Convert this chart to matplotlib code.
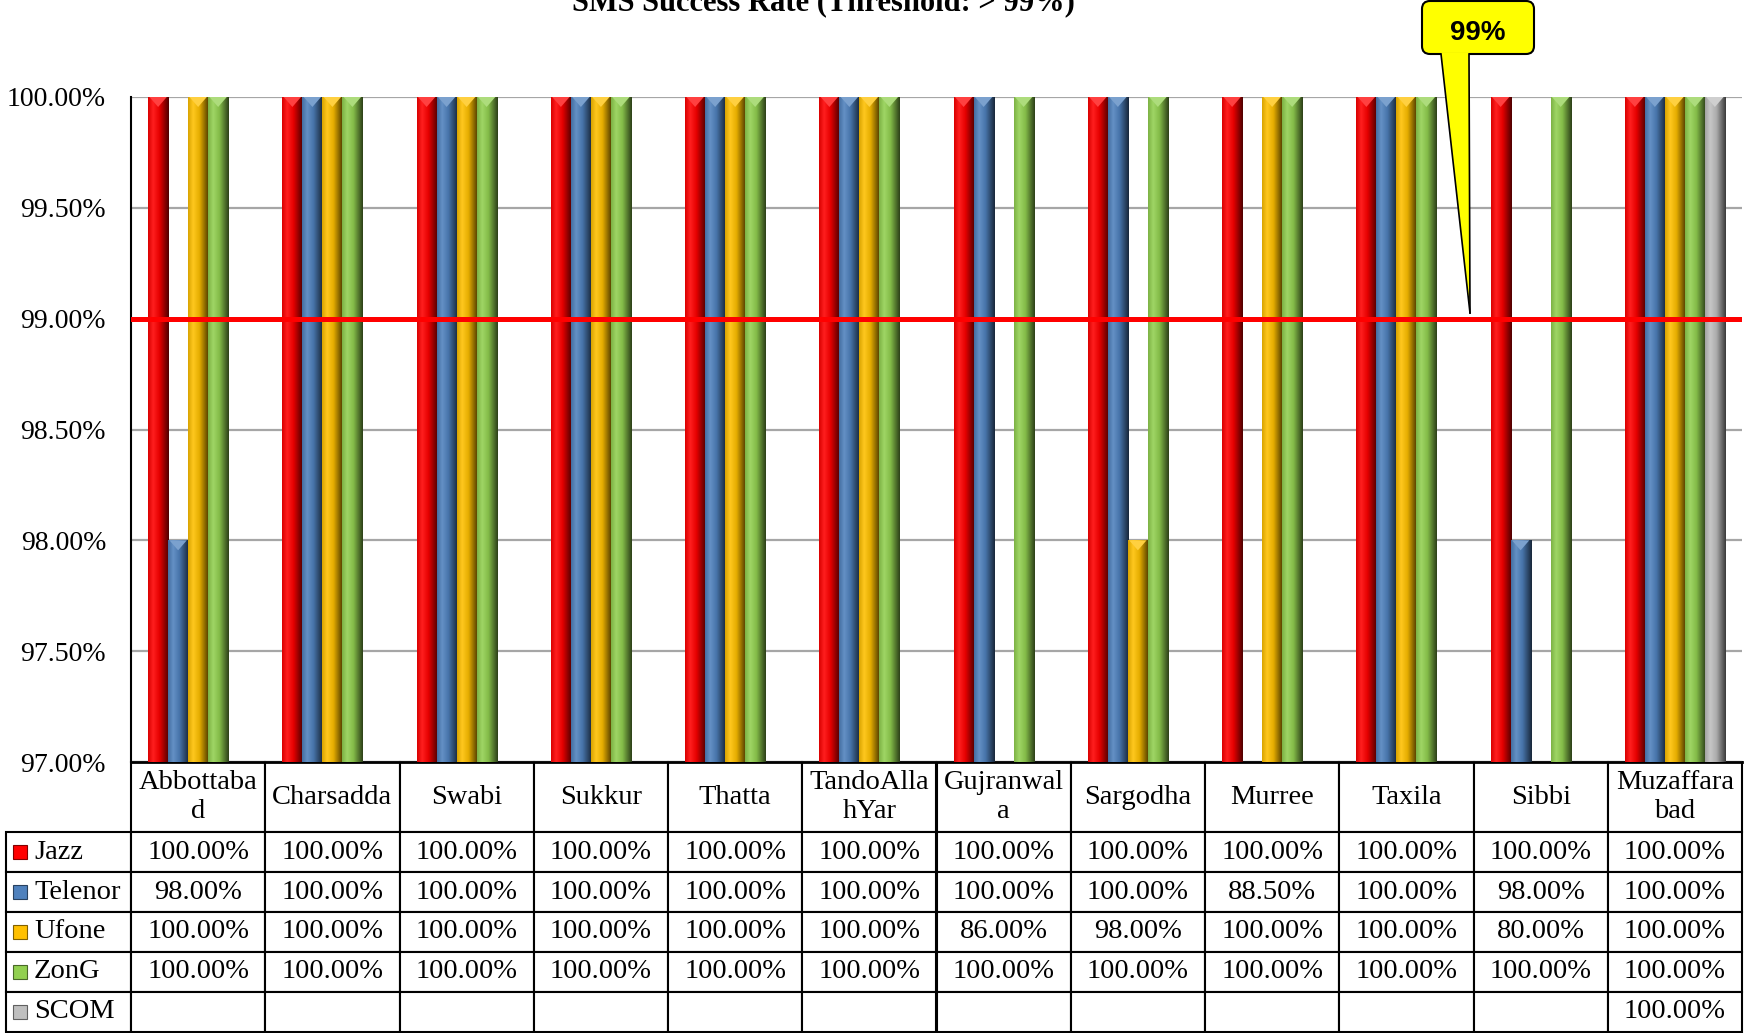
import numpy as np
import matplotlib.pyplot as plt
import matplotlib.transforms as mtransforms
from matplotlib.colors import to_rgb, LinearSegmentedColormap
from matplotlib.patches import FancyBboxPatch, Polygon, Rectangle
from matplotlib.lines import Line2D
from matplotlib.table import Table

plt.rcParams['font.family'] = ['Liberation Serif', 'DejaVu Serif']

categories = ['Abbottaba\nd', 'Charsadda', 'Swabi', 'Sukkur', 'Thatta', 'TandoAlla\nhYar',
              'Gujranwal\na', 'Sargodha', 'Murree', 'Taxila', 'Sibbi', 'Muzaffara\nbad']
series = ['Jazz', 'Telenor', 'Ufone', 'ZonG', 'SCOM']

jazz = [100.0, 100.0, 100.0, 100.0, 100.0, 100.0, 100.0, 100.0, 100.0, 100.0, 100.0, 100.0]
telenor = [98.0, 100.0, 100.0, 100.0, 100.0, 100.0, 100.0, 100.0, 88.5, 100.0, 98.0, 100.0]
ufone = [100.0, 100.0, 100.0, 100.0, 100.0, 100.0, 86.0, 98.0, 100.0, 100.0, 80.0, 100.0]
zong = [100.0, 100.0, 100.0, 100.0, 100.0, 100.0, 100.0, 100.0, 100.0, 100.0, 100.0, 100.0]
nan = np.nan
scom = [nan, nan, nan, nan, nan, nan, nan, nan, nan, nan, nan, 100.0]
data = [jazz, telenor, ufone, zong, scom]

colors = ['#ff0000', '#4f81bd', '#ffc000', '#92d050', '#bfbfbf']
threshold = 99.0
yticks = [97.0, 97.5, 98.0, 98.5, 99.0, 99.5, 100.0]
ymin, ymax = 97.0, 100.0


def shade(c, f):
    r = np.array(to_rgb(c))
    if f > 1:
        return tuple(r + (1 - r) * (f - 1))
    return tuple(r * f)


def bar_cmap(c):
    stops = [(0.0, shade(c, 0.85)), (0.25, shade(c, 1.12)), (0.55, shade(c, 0.9)),
             (0.85, shade(c, 0.5)), (1.0, shade(c, 0.3))]
    return LinearSegmentedColormap.from_list('g', stops)


FW, FH = 1744, 1033
fig = plt.figure(figsize=(FW / 100, FH / 100), dpi=100)
ax_l, ax_r, ax_t, ax_b = 131, 1742, 97, 762
ax = fig.add_axes([ax_l / FW, 1 - ax_b / FH, (ax_r - ax_l) / FW, (ax_b - ax_t) / FH])
px = mtransforms.Affine2D().scale(1 / FW, -1 / FH).translate(0, 1) + fig.transFigure

x = np.arange(len(categories))
width = 0.149
grad = np.linspace(0, 1, 256).reshape(1, -1)
for i, (vals, c) in enumerate(zip(data, colors)):
    bars = ax.bar(x + (i - 2) * width, vals, width, color=c, linewidth=0, zorder=3)
    cmap = bar_cmap(c)
    for b in bars:
        top = b.get_height()
        if np.isnan(top) or top <= ymin:
            continue
        x0 = b.get_x()
        x1 = x0 + b.get_width()
        ax.imshow(grad, extent=[x0, x1, ymin, top], aspect='auto', cmap=cmap,
                  interpolation='bilinear', zorder=3.1)
        ax.add_patch(Polygon([(x0 + 0.01, top), (x1 - 0.01, top), ((x0 + x1) / 2, top - 0.045)],
                             closed=True, fc=shade(c, 1.25), ec='none', zorder=3.2))

ax.axhline(threshold, color='red', lw=3.6, zorder=5)

ax.set_xlim(-0.5, len(categories) - 0.5)
ax.set_ylim(ymin, ymax)
ax.set_yticks(yticks)
ax.set_yticklabels(['{:.2f}%'.format(v) for v in yticks], fontsize=20)
ax.set_xticks([])
ax.tick_params(axis='y', length=0, pad=18)
ax.yaxis.grid(True, color='#a6a6a6', lw=1.6)
ax.set_axisbelow(True)
for s in ['top', 'right']:
    ax.spines[s].set_visible(False)
ax.spines['left'].set_linewidth(1.5)
ax.spines['bottom'].set_linewidth(2)

# data table under the plot
t_l, t_r, t_b = 6, 1742, 1032
aw, ah = ax_r - ax_l, ax_b - ax_t
tb = Table(ax, bbox=[(t_l - ax_l) / aw, -(t_b - ax_b) / ah, (t_r - t_l) / aw, (t_b - ax_b) / ah])
first_w = ax_l - t_l
col_w = aw / len(categories)
for r in range(len(series) + 1):
    h = 70 if r == 0 else 40
    for cidx in range(len(categories) + 1):
        w = first_w if cidx == 0 else col_w
        if r == 0:
            txt = '' if cidx == 0 else categories[cidx - 1]
        elif cidx == 0:
            txt = series[r - 1]
        else:
            v = data[r - 1][cidx - 1]
            txt = '' if np.isnan(v) else '{:.2f}%'.format(v)
        cell = tb.add_cell(r, cidx, w, h, text=txt, loc='left' if cidx == 0 else 'center',
                           edgecolor='black', facecolor='white')
        cell.set_linewidth(1.5)
        cell.get_text().set_linespacing(1.2)
        if cidx == 0:
            cell.PAD = 0.224
        if r == 0 and cidx == 0:
            cell.visible_edges = ''
            cell.set_facecolor('none')
tb.auto_set_font_size(False)
tb.set_fontsize(20.5)
ax.add_table(tb)

# legend keys in the table
for r, c in enumerate(colors):
    yc = ax_b + 70 + 40 * r + 20
    fig.add_artist(Rectangle((13, yc - 7), 14, 14, fc=c, ec=shade(c, 0.5), lw=0.8, transform=px))

# callout
fig.add_artist(FancyBboxPatch((1422, 1), 112, 53, boxstyle='round,pad=0,rounding_size=8',
                              fc='#ffff00', ec='black', lw=1.5, transform=px, zorder=10))
fig.add_artist(Polygon([(1441, 52.5), (1469, 52.5), (1470, 313)], closed=True,
                       fc='#ffff00', ec='none', transform=px, zorder=11))
fig.add_artist(Line2D([1441, 1470], [54, 313], color='black', lw=1.2, transform=px, zorder=12))
fig.add_artist(Line2D([1469, 1470], [54, 313], color='black', lw=1.2, transform=px, zorder=12))
fig.text(1478 / FW, 1 - 33 / FH, '99%', ha='center', va='center', fontsize=20,
         fontweight='bold', family='Liberation Sans', zorder=13)

fig.text(823 / FW, 1 - 10 / FH, 'SMS Success Rate (Threshold: > 99%)', ha='center',
         va='baseline', fontsize=22, fontweight='bold')

fig.savefig('out.png', dpi=100)
